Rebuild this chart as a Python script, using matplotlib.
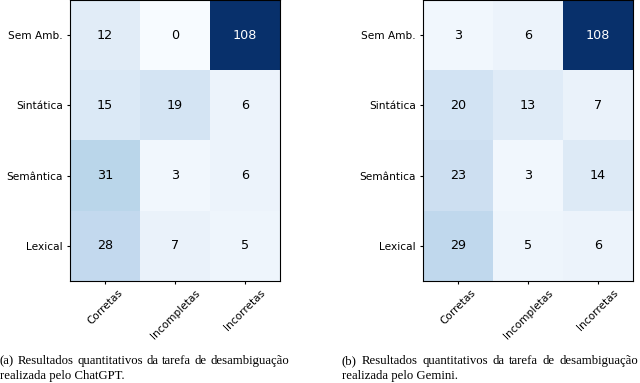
import numpy as np
import matplotlib
matplotlib.use("Agg")
import matplotlib.pyplot as plt

rows = ["Sem Amb.", "Sintática", "Semântica", "Lexical"]
cols = ["Corretas", "Incompletas", "Incorretas"]

chatgpt = np.array([[12, 0, 108],
                    [15, 19, 6],
                    [31, 3, 6],
                    [28, 7, 5]])
gemini = np.array([[3, 6, 108],
                   [20, 13, 7],
                   [23, 3, 14],
                   [29, 5, 6]])

cap_a = ["(a) Resultados quantitativos da tarefa de desambiguação",
         "realizada pelo ChatGPT."]
cap_b = ["(b) Resultados quantitativos da tarefa de desambiguação",
         "realizada pelo Gemini."]

fig = plt.figure(figsize=(6.4, 3.83), dpi=100)
W, H = 640, 383


def heat(ax, m):
    ax.imshow(m, cmap="Blues", vmin=0, vmax=m.max(), aspect="auto")
    for i in range(m.shape[0]):
        for j in range(m.shape[1]):
            v = m[i, j]
            ax.text(j, i, str(v), ha="center", va="center", fontsize=9.2,
                    color="white" if v > m.max() / 2 else "black")
    ax.set_xticks(range(len(cols)))
    ax.set_xticklabels(cols, rotation=45, ha="center", fontsize=7.6)
    ax.set_yticks(range(len(rows)))
    ax.set_yticklabels(rows, fontsize=7.6)
    ax.tick_params(length=2.5, pad=2.5)


ax1 = fig.add_axes([70 / W, 1 - 281 / H, 210 / W, 281 / H])
heat(ax1, chatgpt)
ax2 = fig.add_axes([423 / W, 1 - 281 / H, 210 / W, 281 / H])
heat(ax2, gemini)

# justified caption: first line stretched to column width
rend = fig.canvas.get_renderer()
font = dict(family="Liberation Serif", fontsize=9.2, va="center", ha="left")
for x0, x1, cap in [(0, 289, cap_a), (342, 638, cap_b)]:
    y = 1 - 361 / H
    words = cap[0].split()
    ts = [fig.text(0, y, w, **font) for w in words]
    widths = [t.get_window_extent(rend).width for t in ts]
    gap = (x1 - x0 - sum(widths)) / (len(words) - 1)
    pos = x0
    for t, w in zip(ts, widths):
        t.set_x(pos / W)
        pos += w + gap
    fig.text(x0 / W, 1 - 376 / H, cap[1], **font)

fig.savefig("out.png", dpi=100)
